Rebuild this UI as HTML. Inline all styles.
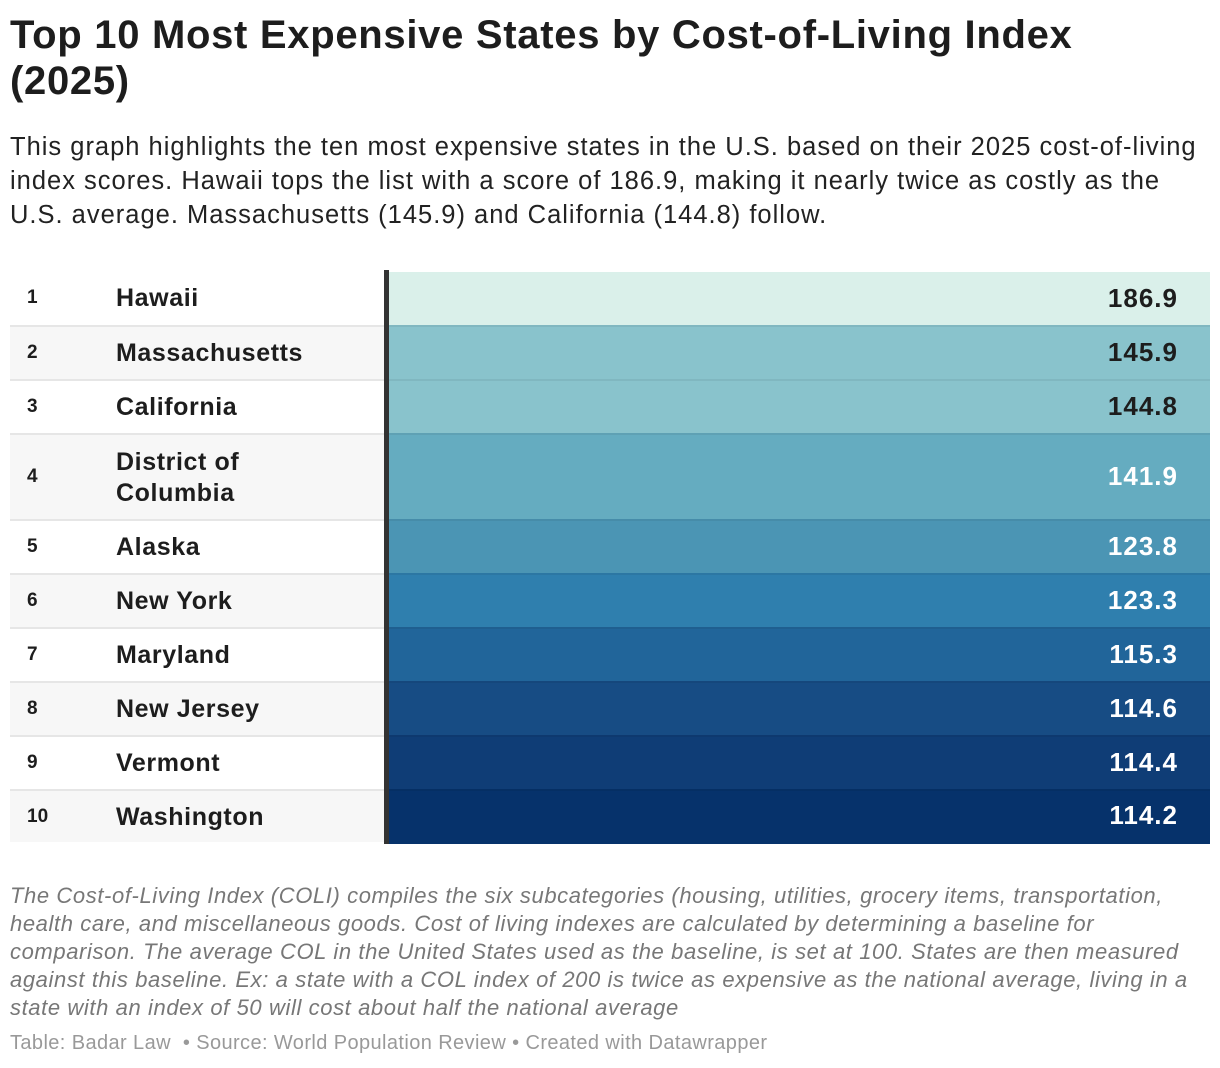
<!DOCTYPE html>
<html><head><meta charset="utf-8">
<style>
body{margin:0;background:#fff;font-family:"Liberation Sans",Arial,sans-serif;color:#1d1d1d;width:1220px;height:1068px;overflow:hidden;position:relative}
h1{position:absolute;left:10px;top:12px;margin:0;font-size:40px;line-height:46px;font-weight:bold;width:1200px;letter-spacing:0.7px;white-space:nowrap}
.sub{position:absolute;left:10px;top:130px;font-size:25.5px;line-height:34px;width:1210px;color:#222;letter-spacing:1px;white-space:nowrap}
#table{position:absolute;left:10px;top:272px;width:1200px}
.row{position:absolute;left:0;width:1200px;box-sizing:border-box}
.rk{position:absolute;left:17px;font-size:19px;font-weight:bold}
.nm{position:absolute;left:106px;font-size:25px;font-weight:bold;line-height:31px;letter-spacing:0.6px}
.bar{position:absolute;left:374px;width:5px;background:#333}
.val{position:absolute;left:379px;right:0;box-sizing:border-box;text-align:right;padding-right:32px;font-size:26px;font-weight:bold;letter-spacing:1px}
.notes{position:absolute;left:10px;top:882px;width:1210px;font-size:22px;line-height:28px;font-style:italic;color:#777;white-space:nowrap;letter-spacing:0.6px}
.src{position:absolute;left:10px;top:1032px;font-size:20px;color:#999;letter-spacing:0.4px;white-space:nowrap}
</style></head><body>
<h1>Top 10 Most Expensive States by Cost-of-Living Index<br>(2025)</h1>
<div class="sub">This graph highlights the ten most expensive states in the U.S. based on their 2025 cost-of-living<br>index scores. Hawaii tops the list with a score of 186.9, making it nearly twice as costly as the<br>U.S. average. Massachusetts (145.9) and California (144.8) follow.</div>
<div id="table"></div>
<div class="notes">The Cost-of-Living Index (COLI) compiles the six subcategories (housing, utilities, grocery items, transportation,<br>health care, and miscellaneous goods. Cost of living indexes are calculated by determining a baseline for<br>comparison. The average COL in the United States used as the baseline, is set at 100. States are then measured<br>against this baseline. Ex: a state with a COL index of 200 is twice as expensive as the national average, living in a<br>state with an index of 50 will cost about half the national average</div>
<div class="src">Table: Badar Law &nbsp;• Source: World Population Review • Created with Datawrapper</div>
<script>
const states=["Hawaii","Massachusetts","California","District of<br>Columbia","Alaska","New York","Maryland","New Jersey","Vermont","Washington"];
const values=[186.9,145.9,144.8,141.9,123.8,123.3,115.3,114.6,114.4,114.2];
const rowHeights=[53,54,54,86,54,54,54,54,54,53];
const stops=[[114.2,[6,50,107]],[114.4,[15,61,118]],[114.6,[23,76,132]],[115.3,[33,101,154]],[123.3,[47,127,174]],[123.8,[75,149,180]],[141.9,[101,172,192]],[144.8,[137,195,204]],[145.9,[137,195,204]],[186.9,[218,240,234]]];
function color(v){
  for(let i=1;i<stops.length;i++){if(v<=stops[i][0]){const a=stops[i-1],b=stops[i];const t=(v-a[0])/(b[0]-a[0]||1);const c=a[1].map((x,k)=>Math.round(x+(b[1][k]-x)*Math.max(0,Math.min(1,t))));return `rgb(${c})`;}}
  return `rgb(${stops[stops.length-1][1]})`;
}
const tbl=document.getElementById('table');
let y=0;
states.forEach((s,i)=>{
  const h=rowHeights[i];
  const r=document.createElement('div');r.className='row';
  
  
  r.style.top=y+'px';r.style.height=h+'px';
  r.style.background=i%2?'#f7f7f7':'#fff';
  if(i>0)r.style.borderTop='2px solid #e6e6e6';
  const mid=h/2;
  r.innerHTML=`<div class="rk" style="top:${mid-12}px">${i+1}</div>`+
   `<div class="nm" style="top:${mid-(s.includes('<br>')?31:16)}px">${s}</div>`+
   `<div class="bar" style="top:-2px;height:${h+2}px"></div>`+
   `<div class="val" style="top:${i?-2:0}px;height:${h+(i?2:0)}px;line-height:${h-(i?4:1)}px;background:${color(values[i])};color:${values[i]>143?'#1d1d1d':'#fff'};${i?'border-top:2px solid rgba(0,0,0,0.06)':''}">${values[i].toFixed(1)}</div>`;
  tbl.appendChild(r);
  y+=h;
});
</script>
</body></html>
